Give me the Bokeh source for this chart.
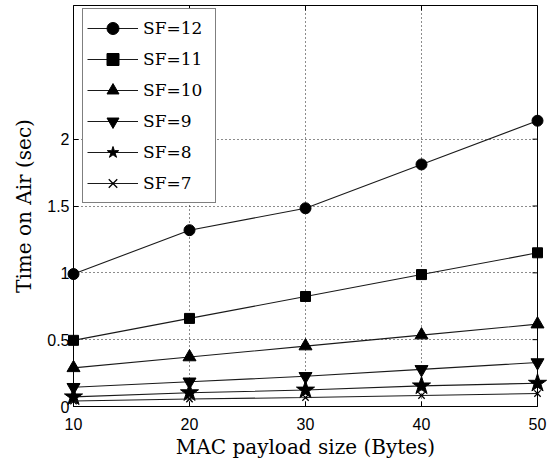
from bokeh.plotting import figure
from bokeh.models import Range1d, FixedTicker, Legend, LegendItem
from bokeh.embed import file_html
from bokeh.resources import INLINE

payload = [10, 20, 30, 40, 50]
sf12 = [0.991, 1.319, 1.483, 1.811, 2.138]
sf11 = [0.495, 0.659, 0.823, 0.987, 1.150]
sf10 = [0.289, 0.370, 0.452, 0.534, 0.616]
sf9 = [0.144, 0.185, 0.226, 0.278, 0.329]
sf8 = [0.072, 0.103, 0.123, 0.154, 0.174]
sf7 = [0.041, 0.056, 0.067, 0.082, 0.097]

series = [("SF=12", sf12, "circle", 11),
          ("SF=11", sf11, "square", 10),
          ("SF=10", sf10, "triangle", 13),
          ("SF=9", sf9, "inverted_triangle", 13),
          ("SF=8", sf8, "star", 19),
          ("SF=7", sf7, "x", 9)]

x_ticks = [10, 20, 30, 40, 50]
y_ticks = [0, 0.5, 1, 1.5, 2]
y_labels = {0: "0", 0.5: "0.5", 1: "1", 1.5: "1.5", 2: "2"}
x_min, x_max = 10, 50
y_min, y_max = 0, 3

SERIF = "DejaVu Serif"
SANS = "Liberation Sans"

p = figure(width=547, height=464, output_backend="svg", toolbar_location=None,
           x_range=Range1d(x_min, x_max), y_range=Range1d(y_min, y_max),
           min_border_left=73, min_border_right=10, min_border_top=5, min_border_bottom=58)

p.background_fill_color = "white"
p.border_fill_color = "white"
p.outline_line_color = "black"
p.outline_line_width = 1

p.xaxis.ticker = FixedTicker(ticks=x_ticks)
p.yaxis.ticker = FixedTicker(ticks=y_ticks)
p.yaxis.major_label_overrides = y_labels
for ax in (p.xaxis[0], p.yaxis[0]):
    ax.major_tick_in = 5
    ax.major_tick_out = 0
    ax.minor_tick_line_color = None
    ax.axis_line_color = "black"
    ax.major_tick_line_color = "black"
    ax.major_label_text_font = SANS
    ax.major_label_text_font_size = "16px"
    ax.major_label_text_color = "black"
    ax.axis_label_text_font = SERIF
    ax.axis_label_text_font_size = "20px"
    ax.axis_label_text_font_style = "normal"
    ax.axis_label_text_color = "black"
p.xaxis.axis_label = "MAC payload size (Bytes)"
p.yaxis.axis_label = "Time on Air (sec)"
p.xaxis.major_label_standoff = 11
p.xaxis.axis_label_standoff = 2
p.yaxis.major_label_standoff = 4
p.yaxis.axis_label_standoff = 8

p.xgrid.ticker = FixedTicker(ticks=x_ticks)
p.ygrid.ticker = FixedTicker(ticks=y_ticks)
for g in (p.xgrid[0], p.ygrid[0]):
    g.grid_line_color = "black"
    g.grid_line_dash = "1 3"
    g.grid_line_width = 1
    g.grid_line_alpha = 0.9

# inward ticks on the top and right edges of the box (half of each dash is clipped)
p.scatter(x_ticks, [y_max] * len(x_ticks), marker="dash", angle=1.5708, size=10,
          line_color="black", line_width=1)
p.scatter([x_max] * len(y_ticks), y_ticks, marker="dash", size=10,
          line_color="black", line_width=1)

items = []
for name, vals, marker, size in series:
    ln = p.line(payload, vals, line_color="#1a1a1a", line_width=1.1, level="overlay")
    sc = p.scatter(payload, vals, marker=marker, size=size, fill_color="black",
                   line_color="black", line_width=1.3 if marker == "x" else 1,
                   level="overlay")
    items.append(LegendItem(label=name, renderers=[ln, sc]))

legend = Legend(items=items, location=(9, 203))
legend.border_line_color = "black"
legend.border_line_width = 1
legend.background_fill_color = "white"
legend.background_fill_alpha = 1
legend.label_text_font = SERIF
legend.label_text_font_size = "17px"
legend.label_text_color = "black"
legend.glyph_width = 51
legend.glyph_height = 30
legend.label_height = 20
legend.label_width = 68
legend.label_standoff = 5
legend.spacing = 1
legend.padding = 4
legend.margin = 0
p.add_layout(legend, "center")

open("out.html", "w").write(file_html(p, INLINE))
